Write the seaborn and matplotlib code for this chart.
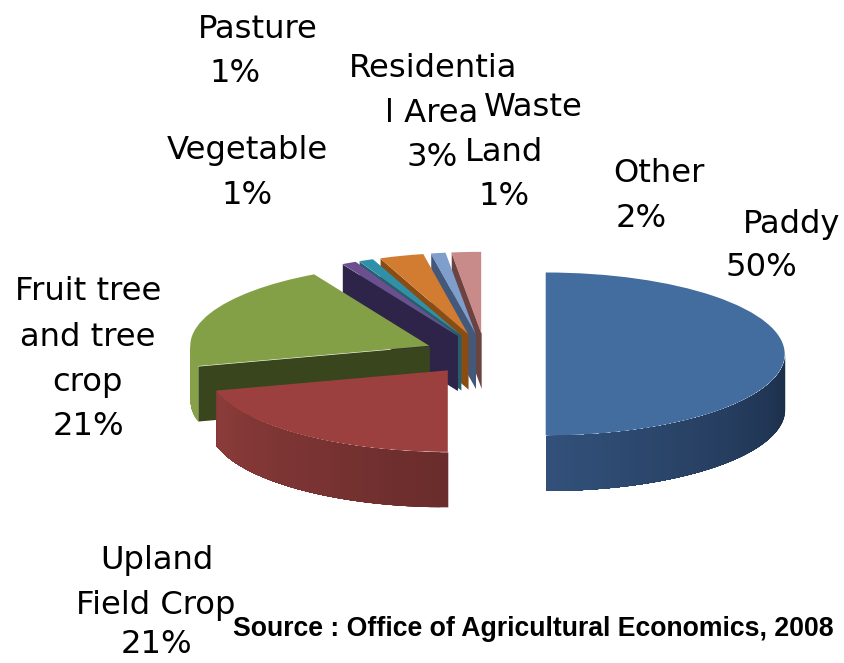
import numpy as np
import matplotlib
matplotlib.use('Agg')
import matplotlib.pyplot as plt
import matplotlib.colors as mcolors
import seaborn as sns

categories = ['Paddy', 'Upland Field Crop', 'Fruit tree and tree crop', 'Vegetable',
              'Pasture', 'Residential Area', 'Waste Land', 'Other']
values = [50, 21, 21, 1, 1, 3, 1, 2]
source = 'Source : Office of Agricultural Economics, 2008'

top_colors = ['#436c9f', '#9c403f', '#84a047', '#6b4f8e', '#2f90a9', '#d17c31', '#7f9ecb', '#c88b8a']
cut_colors = ['#2f4a6e', '#7e3432', '#39461d', '#2e2348', '#22606f', '#8a4c12', '#43597b', '#6b4442']
# wall colour at start and end of the arc
wall_colors = [('#1b2e48', '#32507a'), ('#6a2c2c', '#8b3c3a'), ('#86a14a', '#86a14a'),
               ('#2e2348', '#2e2348'), ('#22606f', '#22606f'), ('#8a4c12', '#8a4c12'),
               ('#43597b', '#43597b'), ('#6b4442', '#6b4442')]

# every label line with its centre in image pixels, pct = index of the value it shows
label_lines = [
    ('Paddy', 792, 222, None), (None, 761, 265, 0),
    ('Upland', 157, 558, None), ('Field Crop', 156, 603, None), (None, 156, 642, 1),
    ('Fruit tree', 88, 289, None), ('and tree', 88, 335, None), ('crop', 88, 380, None), (None, 88, 424, 2),
    ('Vegetable', 247, 148, None), (None, 247, 193, 3),
    ('Pasture', 258, 27, None), (None, 235, 71, 4),
    ('Residentia', 433, 66, None), ('l Area', 432, 111, None), (None, 432, 155, 5),
    ('Waste', 533, 105, None), ('Land', 504, 150, None), (None, 504, 194, 6),
    ('Other', 659, 171, None), (None, 641, 216, 7),
]

W, H = 844, 663
cx, cy = 485, 354
rx, ry = 239, 81.5
explode = 0.254
depth = 55 / ry

sns.set_theme(style='white')
plt.rcParams['font.family'] = ['DejaVu Sans']

fig = plt.figure(figsize=(W / 100, H / 100), dpi=100)
ax = fig.add_axes([0, 0, 1, 1])

n = len(values)
wedges, _ = ax.pie(values, colors=top_colors, startangle=90, counterclock=False,
                   explode=[explode] * n, wedgeprops={'linewidth': 0})
ax.set_aspect('auto')
ax.set_xlim(-cx / rx, (W - cx) / rx)
ax.set_ylim(-(H - cy) / ry, cy / ry)

# angles clockwise from 12 o'clock
edges = np.concatenate([[0], np.cumsum(values)]) / sum(values) * 2 * np.pi

for i in range(n):
    a0, a1 = edges[i], edges[i + 1]
    mid = (a0 + a1) / 2
    ox, oy = explode * np.sin(mid), explode * np.cos(mid)
    z = 2 * (n - i) + 2
    wedges[i].set_zorder(z + 1)

    # cut face on the start side, seen when it points at the viewer
    if np.pi < a0 < 2 * np.pi:
        xs = [ox, ox + np.sin(a0)]
        ys = [oy, oy + np.cos(a0)]
        ax.fill_between(xs, ys, [y - depth for y in ys], color=cut_colors[i], lw=0, zorder=z)

    # outer wall, only the front half of the circle
    lo, hi = max(a0, np.pi / 2), min(a1, 3 * np.pi / 2)
    if lo < hi:
        th = np.linspace(lo, hi, 41)
        c0 = np.array(mcolors.to_rgb(wall_colors[i][0]))
        c1 = np.array(mcolors.to_rgb(wall_colors[i][1]))
        for k in range(40):
            t = k / 39
            # each strip runs on to the end of the arc so no seams show
            part = th[k:]
            xs = ox + np.sin(part)
            ys = oy + np.cos(part)
            ax.fill_between(xs, ys, ys - depth, color=c0 + (c1 - c0) * t, lw=0, zorder=z)

for text, x, y, pct in label_lines:
    s = text if pct is None else f'{values[pct]}%'
    fig.text(x / W, 1 - (y + 2.5) / H, s, ha='center', va='center', fontsize=23.2, color='black', zorder=30)

fig.text(533 / W, 1 - 629 / H, source, ha='center', va='center', fontsize=19.2,
         fontweight='bold', family='Liberation Sans', color='black', zorder=30)

fig.savefig('out.png', dpi=100)
